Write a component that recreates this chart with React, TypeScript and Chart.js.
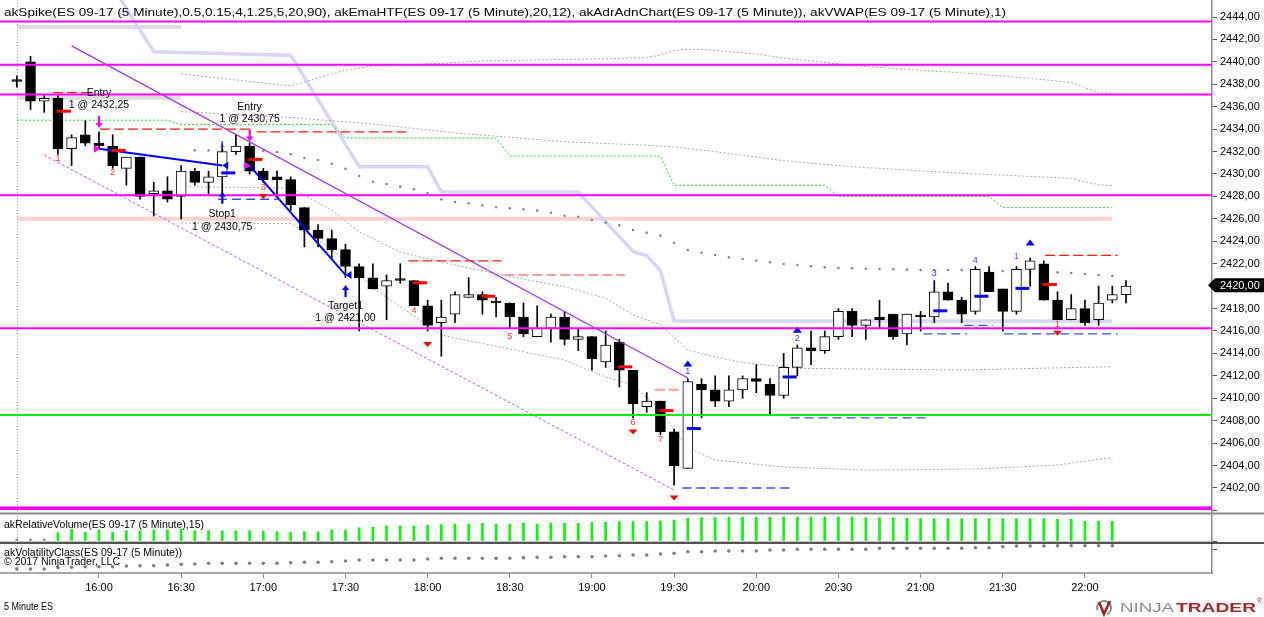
import React, { useEffect, useRef } from 'react';
import { Chart, registerables } from 'chart.js';

Chart.register(...registerables);

const FONT = "'Liberation Sans', Arial, sans-serif";

// ---- candles (5 minute bars, 15:30 .. 22:15) ----
const OPEN = [2438.25,2440.0,2436.5,2436.75,2432.25,2433.5,2432.75,2432.5,2430.5,2431.5,
2428.25,2428.5,2428.0,2430.25,2429.25,2429.75,2432.0,2432.5,2430.25,2429.75,
2429.5,2427.0,2425.0,2424.25,2423.25,2421.75,2420.75,2420.0,2420.5,2420.5,
2418.25,2416.75,2417.5,2419.0,2419.25,2418.5,2418.5,2417.25,2415.5,2416.25,
2417.25,2415.25,2415.5,2413.25,2415.0,2412.5,2409.25,2409.75,2407.0,2403.75,
2411.25,2410.75,2409.75,2410.75,2411.75,2411.25,2410.25,2412.75,2414.5,2414.25,
2415.5,2417.75,2416.5,2417.25,2417.5,2415.75,2417.25,2417.25,2419.5,2418.75,
2417.75,2421.25,2419.75,2417.75,2421.5,2422.0,2418.75,2417.0,2418.0,2417.0,
2418.75,2419.25];
const HIGH = [2438.75,2440.5,2437.0,2437.0,2433.5,2434.75,2433.75,2433.5,2431.5,2431.5,
2429.25,2429.75,2430.75,2430.5,2430.25,2432.75,2433.5,2432.75,2430.5,2430.25,
2429.75,2427.0,2425.5,2425.0,2423.75,2422.0,2422.0,2421.0,2422.0,2420.5,
2418.75,2418.75,2419.5,2420.75,2419.5,2419.0,2418.5,2418.5,2418.25,2417.5,
2417.75,2416.25,2415.5,2416.0,2415.25,2412.5,2410.5,2409.75,2407.25,2411.75,
2411.75,2412.0,2412.0,2412.0,2413.0,2411.75,2414.0,2414.75,2416.0,2416.0,
2418.0,2418.0,2417.0,2418.75,2417.5,2417.5,2417.75,2420.5,2420.25,2419.0,
2421.75,2421.75,2419.75,2421.75,2422.5,2422.25,2419.5,2419.25,2418.75,2420.0,
2420.0,2420.5];
const LOW = [2437.75,2435.75,2435.5,2431.75,2430.75,2432.5,2432.25,2430.5,2429.0,2427.75,
2426.25,2427.5,2426.0,2429.0,2428.25,2428.25,2431.75,2430.0,2429.25,2428.25,
2426.75,2423.5,2423.5,2422.5,2420.75,2416.0,2419.75,2417.0,2420.25,2418.25,
2416.0,2413.75,2416.75,2419.0,2417.5,2417.25,2416.25,2415.5,2415.5,2415.0,
2414.75,2414.25,2412.5,2412.75,2411.0,2408.25,2408.75,2406.75,2402.25,2403.75,
2408.25,2409.25,2409.25,2410.0,2410.5,2408.5,2410.0,2412.0,2413.0,2414.0,
2415.25,2415.5,2415.25,2416.25,2415.25,2414.75,2416.0,2416.75,2418.75,2416.75,
2417.5,2419.5,2416.0,2417.5,2420.0,2418.75,2417.0,2417.0,2416.5,2416.5,
2418.5,2418.5];
const CLOSE = [2438.25,2436.5,2436.75,2432.25,2433.25,2432.75,2432.5,2430.75,2431.5,2428.0,
2428.5,2427.75,2430.25,2429.25,2429.75,2432.0,2432.5,2430.25,2429.5,2429.5,
2427.25,2425.0,2424.25,2423.25,2421.75,2420.75,2419.75,2420.5,2420.5,2418.25,
2416.5,2417.25,2419.25,2419.25,2418.75,2418.5,2417.25,2415.75,2416.25,2417.25,
2415.25,2415.5,2413.5,2414.75,2412.5,2409.5,2409.75,2407.0,2404.0,2411.5,
2410.75,2409.75,2410.75,2411.75,2411.5,2410.25,2412.75,2414.5,2414.25,2415.5,
2417.75,2416.5,2417.0,2417.0,2415.5,2417.5,2417.25,2419.5,2418.75,2417.5,
2421.5,2419.5,2417.75,2421.5,2422.25,2418.75,2417.0,2418.0,2416.75,2418.5,
2419.25,2420.0];

// ---- axis ticks ----
const TICK_BARS = [6, 12, 18, 24, 30, 36, 42, 48, 54, 60, 66, 72, 78];
const TICK_LABELS = ['16:00','16:30','17:00','17:30','18:00','18:30','19:00','19:30','20:00','20:30','21:00','21:30','22:00'];
const PRICE_TICKS = [2400,2402,2404,2406,2408,2410,2412,2414,2416,2418,2420,2422,2424,2426,2428,2430,2432,2434,2436,2438,2440,2442,2444];
const SESSION_BAR = 0;

// ---- lower panels ----
const REL_VOLUME = [2,2,2,8.3,11.7,8.7,11,8.7,10.3,10,
11,11,11.7,10.3,10.3,10.3,10.3,10.3,10,9.3,
8.7,9.3,9.3,11,11,13.3,13.7,15,15,15,
15.7,16.3,17,17,17.7,17,17,17.7,17,17.7,
17.7,17.7,18.7,18.7,19.3,19.3,19.3,20,21,22.7,
23.3,23.7,23.7,23.7,23.7,23.7,24,24,24,24,
24,24,23.3,23.3,23.3,22.7,22.3,22.3,22.3,22.3,
22.3,22.3,22.3,22.3,22.3,22.3,21.7,21.7,19.7,19.7,
19.7];
const VOLATILITY = [4,4,4,5.3,5.7,6.3,6.3,6.3,7,7.3,
7.3,8,8.7,9,9.7,9.7,9.7,9.7,9.7,9.7,
10.3,10.7,10.7,11.3,12,13,13,13,13,13,
14,14.7,14.7,14.7,14.7,14.7,14.7,15.3,15.7,15.7,
16.3,16.3,16.3,17,17.3,18,18,19,19.7,21.3,
21.3,22,22,22,22,23,23,23.7,23.7,23.7,
23.7,23.7,23.7,24.7,24.7,24.7,24.7,24.7,24.7,24.7,
25.3,25.3,26.3,27,27,27,27.3,27.3,27.3,27.3,
27.3];

// ---- indicators ----
const VWAP_START = 13;
const VWAP = [2432.11,2432.1,2432.1,2432.1,2432.1,2432.05,2431.96,2431.76,2431.43,2431.25,
2430.91,2430.47,2429.82,2429.31,2429.11,2428.87,2428.64,2428.28,2427.74,2427.5,
2427.39,2427.21,2427.03,2426.94,2426.85,2426.73,2426.55,2426.28,2426.19,2425.9,
2425.66,2425.42,2425.01,2424.77,2424.5,2423.87,2423.22,2422.98,2422.78,2422.57,
2422.42,2422.27,2422.13,2421.97,2421.88,2421.77,2421.68,2421.62,2421.59,2421.55,
2421.53,2421.5,2421.47,2421.44,2421.44,2421.44,2421.44,2421.41,2421.38,2421.35,
2421.32,2421.29,2421.26,2421.23,2421.17,2421.08,2420.99,2420.93];

const EMA_HTF = [[7,2446.7],[8,2444.77],[9,2442.84],[10,2440.9],[20,2440.6],[25,2430.65],[30,2430.65],[31,2428.4],[41,2428.4],[45,2423.1],[46,2422.7],[47,2421.4],[48,2416.9],[80,2416.9]];
const ADR_LINE = [[0,2434.8],[11,2434.8],[12,2434.4],[23,2434.4],[24,2433.2],[35,2433.2],[36,2431.6],[47,2431.6],[48,2429.0],[59,2429.0],[60,2428.0],[71,2428.0],[72,2427.0],[80,2427.0]];
const BAND_UPPER2 = [[12,2438.92],[14,2438.65],[16,2438.38],[18,2438.11],[20,2437.85],[22,2438.56],[24,2439.27],[26,2439.63],[28,2439.72],[30,2439.81],[34,2440.08],[38,2440.17],[42,2440.26],[44,2440.3],[46,2440.39],[47,2440.61],[48,2441.01],[49,2441.12],[50,2441.12],[52,2440.91],[54,2440.7],[56,2440.34],[58,2440.08],[60,2439.81],[62,2439.59],[64,2439.41],[66,2439.23],[68,2439.1],[70,2438.92],[72,2438.74],[74,2438.52],[76,2438.29],[77,2438.14],[78,2437.7],[79,2437.25],[80,2437.2]];
const BAND_UPPER1 = [[12,2435.56],[20,2435.04],[26,2434.46],[32,2433.66],[40,2432.88],[46,2432.56],[48,2432.41],[51,2431.99],[56,2431.19],[61,2430.65],[69,2430.06],[77,2429.62],[78,2429.29],[79,2429.06],[80,2428.96]];
const BAND_LOWER1 = [[12,2428.87],[20,2428.75],[23,2426.79],[25,2424.83],[28,2423.04],[31,2422.15],[36,2420.84],[40,2419.95],[43,2418.94],[45,2417.43],[47,2416.54],[49,2414.31],[51,2413.68],[53,2413.19],[57,2412.67],[69,2412.52],[80,2412.82]];
const BAND_LOWER2 = [[12,2425.63],[20,2425.58],[22,2424.11],[24,2422.33],[26,2419.83],[28,2418.17],[31,2415.64],[36,2414.39],[40,2413.41],[43,2411.9],[45,2411.19],[47,2408.96],[49,2405.57],[51,2404.5],[56,2403.87],[62,2403.6],[70,2403.69],[76,2404.05],[80,2404.72]];
const PINK_BAND = [[0,2426.0],[80,2426.0]];
const GRAY_TOP = [[0,2443.1],[12,2443.1]];
const GRAY_MID = [[0,2436.8],[12,2436.8]];
const CHANNEL_UPPER = [[4,2441.42],[49,2411.81]];
const CHANNEL_LOWER = [[2,2431.69],[48,2401.82]];
const TRADE_1 = [[6,2432.25],[15,2430.75]];
const TRADE_2 = [[17,2430.75],[24,2421.0]];

// ---- levels and annotations ----
const MAGENTA_LEVELS = [2443.6, 2439.75, 2437.1, 2428.1, 2416.25];
const BOTTOM_LEVEL = 2400.2;
const GREEN_LEVEL = 2408.5;
const RED_DASH = [[2.65,5.34,2437.25],[6.07,17.25,2434.0],[17.5,28.5,2433.75],[28.6,35.4,2422.25],[75.1,80.4,2422.75]];
const PINK_DASH = [[35.6,44.4,2421.0],[46.6,48.4,2410.75]];
const BLUE_DASH = [[14.7,19.2,2427.75],[48.6,56.5,2402.0],[56.5,66.5,2408.25],[66.2,69.4,2415.75],[69.2,71.3,2416.5],[72.1,80.4,2415.75]];
const RED_TICKS = [[3,2435.6],[7,2432.1],[17,2431.3],[29,2420.3],[34,2419.1],[44,2412.8],[47,2408.9],[75,2420.15]];
const BLUE_TICKS = [[15,2430.1],[49,2407.3],[56,2411.9],[67,2417.8],[70,2419.1],[73,2419.8]];
const RED_DOWN = [[18,2428.0],[30,2414.8],[45,2407.0],[48,2401.1],[76,2415.8]];
const BLUE_UP = [[49,2413.1],[57,2416.1],[74,2423.9]];
const RED_NUMS: [number, number, string][] = [[3,2431.35,'1'],[7,2430.1,'2'],[18,2428.8,'3'],[29,2417.8,'4'],[36,2415.55,'5'],[45,2407.86,'6'],[47,2406.34,'7'],[76,2416.6,'1']];
const BLUE_NUMS: [number, number, string][] = [[15,2432.65,'1'],[49,2412.37,'1'],[57,2415.29,'2'],[67,2421.14,'3'],[70,2422.27,'4']];
const PURPLE_NUMS: [number, number, string][] = [[73,2422.63,'1']];
const TRADE_TEXT: [number, number, string][] = [[6,2437.2,'Entry'],[6,2436.15,'1 @ 2432,25'],[17,2436.0,'Entry'],[17,2434.88,'1 @ 2430,75'],[15,2426.43,'Stop1'],[15,2425.3,'1 @ 2430,75'],[24,2418.23,'Target1'],[24,2417.13,'1 @ 2421,00']];
const ENTRY_ARROWS = [[6,2434.1],[17,2432.9]];
const EXIT_ARROWS = [[15,2428.42],[24,2420.1]];
const ENTRY_MARKS = [[6,2432.25],[17,2430.75]];
const EXIT_MARKS = [[15,2430.75],[24,2421.0]];
const LAST_PRICE = 2420.0;

const TITLE = 'akSpike(ES 09-17 (5 Minute),0.5,0.15,4,1.25,5,20,90), akEmaHTF(ES 09-17 (5 Minute),20,12), akAdrAdnChart(ES 09-17 (5 Minute)), akVWAP(ES 09-17 (5 Minute),1)';

const pts = (pairs: number[][]) => pairs.map(([x, y]) => ({ x, y }));
const fmt = (v: number) => v.toFixed(2).replace('.', ',');

function lineDs(data: any[], color: string, width: number, order: number, dash: number[] = []) {
  return {
    type: 'line', data, borderColor: color, borderWidth: width, borderDash: dash,
    pointRadius: 0, fill: false, tension: 0, order, yAxisID: 'y',
  };
}

function fitText(ctx: CanvasRenderingContext2D, text: string, x: number, y: number, width: number, font: string, color: string) {
  ctx.save();
  ctx.font = font;
  ctx.fillStyle = color;
  ctx.textAlign = 'left';
  ctx.textBaseline = 'middle';
  const w = ctx.measureText(text).width;
  ctx.translate(x, y);
  ctx.scale(width / w, 1);
  ctx.fillText(text, 0, 0);
  ctx.restore();
}

const noPad = (s: any) => { s.paddingLeft = 0; s.paddingRight = 0; s.paddingTop = 0; s.paddingBottom = 0; };

const overlayPlugin = {
  id: 'ninjaOverlay',
  beforeDraw(chart: any) {
    const { ctx } = chart;
    ctx.save();
    ctx.fillStyle = '#ffffff';
    ctx.fillRect(0, 0, chart.width, chart.height);
    ctx.restore();
  },
  beforeDatasetsDraw(chart: any) {
    const { ctx, chartArea } = chart;
    const x = Math.round(chart.scales.x.getPixelForValue(SESSION_BAR)) + 0.5;
    ctx.save();
    ctx.strokeStyle = '#a0a0a0';
    ctx.lineWidth = 1;
    ctx.setLineDash([1, 2]);
    ctx.beginPath();
    ctx.moveTo(x, chartArea.top);
    ctx.lineTo(x, chartArea.bottom);
    ctx.stroke();
    ctx.restore();
  },
  afterDatasetsDraw(chart: any) {
    const { ctx, chartArea } = chart;
    const xs = chart.scales.x;
    const ys = chart.scales.y;
    const px = (b: number) => xs.getPixelForValue(b);
    const py = (p: number) => ys.getPixelForValue(p);
    ctx.save();
    ctx.beginPath();
    ctx.rect(chartArea.left, ys.top, chartArea.right - chartArea.left, ys.bottom - ys.top);
    ctx.clip();

    const hline = (p: number, color: string, w: number) => {
      ctx.strokeStyle = color; ctx.lineWidth = w; ctx.setLineDash([]);
      ctx.beginPath(); ctx.moveTo(chartArea.left, py(p)); ctx.lineTo(chartArea.right, py(p)); ctx.stroke();
    };
    hline(GREEN_LEVEL, '#10f010', 2);
    MAGENTA_LEVELS.forEach((p) => hline(p, '#ff00ff', 2));
    hline(BOTTOM_LEVEL, '#ff00ff', 3.5);

    const seg = (list: number[][], color: string, w: number, dash: number[]) => {
      ctx.strokeStyle = color; ctx.lineWidth = w; ctx.setLineDash(dash);
      list.forEach(([a, b, p]) => {
        ctx.beginPath(); ctx.moveTo(px(a), py(p)); ctx.lineTo(px(b), py(p)); ctx.stroke();
      });
    };
    seg(RED_DASH, '#ff1a1a', 1.3, [10, 4]);
    seg(PINK_DASH, '#ff9c9c', 2, [10, 4]);
    seg(BLUE_DASH, '#3a4fd6', 1.3, [9, 5]);
    ctx.setLineDash([]);

    const tick = (list: number[][], color: string) => {
      ctx.strokeStyle = color; ctx.lineWidth = 3;
      list.forEach(([b, p]) => {
        const x = px(b); const y = py(p);
        ctx.beginPath(); ctx.moveTo(x - 1, y); ctx.lineTo(x + 13, y); ctx.stroke();
      });
    };
    tick(RED_TICKS, '#ff0000');
    tick(BLUE_TICKS, '#0000ff');

    ctx.fillStyle = '#ff0000';
    RED_DOWN.forEach(([b, p]) => {
      const x = px(b); const y = py(p);
      ctx.beginPath(); ctx.moveTo(x - 4.5, y - 2.5); ctx.lineTo(x + 4.5, y - 2.5); ctx.lineTo(x, y + 2.5); ctx.closePath(); ctx.fill();
    });
    ctx.fillStyle = '#0000ff';
    BLUE_UP.forEach(([b, p]) => {
      const x = px(b); const y = py(p);
      ctx.beginPath(); ctx.moveTo(x - 4.5, y + 3); ctx.lineTo(x + 4.5, y + 3); ctx.lineTo(x, y - 3); ctx.closePath(); ctx.fill();
    });

    // trade arrows
    ENTRY_ARROWS.forEach(([b, p]) => {
      const x = px(b); const y = py(p);
      ctx.fillStyle = '#ff00ff';
      ctx.fillRect(x - 1, y - 12, 2.2, 8);
      ctx.beginPath(); ctx.moveTo(x - 3.5, y - 5); ctx.lineTo(x + 3.7, y - 5); ctx.lineTo(x + 0.1, y); ctx.closePath(); ctx.fill();
    });
    EXIT_ARROWS.forEach(([b, p]) => {
      const x = px(b); const y = py(p);
      ctx.fillStyle = '#0000ff';
      ctx.fillRect(x - 1, y + 4, 2.2, 8);
      ctx.beginPath(); ctx.moveTo(x - 3.5, y + 5); ctx.lineTo(x + 3.7, y + 5); ctx.lineTo(x + 0.1, y); ctx.closePath(); ctx.fill();
    });
    ENTRY_MARKS.forEach(([b, p]) => {
      const x = px(b); const y = py(p);
      ctx.fillStyle = '#ff00ff';
      ctx.beginPath(); ctx.moveTo(x - 5, y - 4); ctx.lineTo(x + 1, y); ctx.lineTo(x - 5, y + 4); ctx.closePath(); ctx.fill();
    });
    EXIT_MARKS.forEach(([b, p]) => {
      const x = px(b); const y = py(p);
      ctx.fillStyle = '#0000ff';
      ctx.beginPath(); ctx.moveTo(x + 6, y - 4); ctx.lineTo(x, y); ctx.lineTo(x + 6, y + 4); ctx.closePath(); ctx.fill();
    });

    ctx.textAlign = 'center';
    ctx.textBaseline = 'middle';
    const nums = (list: [number, number, string][], color: string, size: number) => {
      ctx.fillStyle = color; ctx.font = `${size}px ${FONT}`;
      list.forEach(([b, p, t]) => ctx.fillText(t, px(b), py(p)));
    };
    nums(RED_NUMS, '#ff3030', 9);
    nums(BLUE_NUMS, '#2a3cff', 9);
    nums(PURPLE_NUMS, '#9040ff', 9);

    ctx.fillStyle = '#000000';
    ctx.font = `10.5px ${FONT}`;
    TRADE_TEXT.forEach(([b, p, t]) => ctx.fillText(t, px(b), py(p)));
    ctx.restore();
  },
  afterDraw(chart: any) {
    const { ctx, chartArea } = chart;
    const ys = chart.scales.y;
    ctx.save();
    // panel separators
    ctx.strokeStyle = '#8c8c8c'; ctx.lineWidth = 2;
    ctx.beginPath(); ctx.moveTo(0, 513.5); ctx.lineTo(chart.width, 513.5); ctx.stroke();
    ctx.strokeStyle = '#c4c4c4'; ctx.lineWidth = 1;
    ctx.beginPath(); ctx.moveTo(0, 541.5); ctx.lineTo(chartArea.right, 541.5); ctx.stroke();
    ctx.strokeStyle = '#1a1a1a'; ctx.lineWidth = 1.5;
    ctx.beginPath(); ctx.moveTo(0, 543); ctx.lineTo(chart.width, 543); ctx.stroke();
    ctx.restore();

    fitText(ctx, TITLE, 4, 13, 1002, `11.5px ${FONT}`, '#000');
    fitText(ctx, 'akRelativeVolume(ES 09-17 (5 Minute),15)', 4, 525, 200, `11px ${FONT}`, '#000');
    fitText(ctx, 'akVolatilityClass(ES 09-17 (5 Minute))', 4, 553, 178, `11px ${FONT}`, '#000');
    fitText(ctx, '\u00a9 2017 NinjaTrader, LLC', 4, 561.5, 116, `11px ${FONT}`, '#000');
    fitText(ctx, '5 Minute ES', 4, 607, 49, `10px ${FONT}`, '#000');

    // last price tag
    const y = ys.getPixelForValue(LAST_PRICE) - 1;
    ctx.save();
    ctx.fillStyle = '#000';
    ctx.beginPath();
    ctx.moveTo(1208, y); ctx.lineTo(1215, y - 7); ctx.lineTo(1264, y - 7); ctx.lineTo(1264, y + 7); ctx.lineTo(1215, y + 7);
    ctx.closePath(); ctx.fill();
    ctx.fillStyle = '#fff'; ctx.font = `11px ${FONT}`; ctx.textAlign = 'left'; ctx.textBaseline = 'middle';
    ctx.fillText(fmt(LAST_PRICE), 1220, y + 0.5);
    ctx.restore();

    // NinjaTrader logo
    ctx.save();
    ctx.strokeStyle = '#8a8a8a'; ctx.lineWidth = 2;
    ctx.beginPath(); ctx.arc(1104, 608, 7, 0.9 * Math.PI, 2.35 * Math.PI); ctx.stroke();
    ctx.strokeStyle = '#a3202a'; ctx.lineWidth = 2.6;
    ctx.beginPath(); ctx.moveTo(1099, 602); ctx.lineTo(1104, 614); ctx.lineTo(1110, 601); ctx.stroke();
    ctx.restore();
    fitText(ctx, 'NINJA', 1120, 608, 54, `13px ${FONT}`, '#8c8c8c');
    fitText(ctx, 'TRADER', 1176, 608, 80, `bold 13px ${FONT}`, '#a5262b');
    fitText(ctx, '\u00ae', 1257, 601, 5, `7px ${FONT}`, '#a5262b');
  },
};

export default function App() {
  const ref = useRef<HTMLCanvasElement>(null);
  useEffect(() => {
    document.body.style.margin = '0';
    const canvas = ref.current;
    if (!canvas) return;

    const wick = HIGH.map((h, i) => ({ x: i, y: [LOW[i], h] }));
    const body = OPEN.map((o, i) => ({ x: i, y: [o, CLOSE[i]] }));
    const bodyColors = OPEN.map((o, i) => (CLOSE[i] > o ? '#ffffff' : '#000000'));

    const datasets: any[] = [
      lineDs(pts(PINK_BAND), '#ffd2d2', 4, 20),
      lineDs(pts(GRAY_TOP), '#dcdcdc', 4, 20),
      lineDs(pts(GRAY_MID), '#dcdcdc', 4, 20),
      lineDs(pts(EMA_HTF), '#d6d6f6', 3.5, 19),
      lineDs(pts(BAND_UPPER2), '#a8a8a8', 1, 18, [2, 2]),
      lineDs(pts(BAND_UPPER1), '#a8a8a8', 1, 18, [2, 2]),
      lineDs(pts(BAND_LOWER1), '#a8a8a8', 1, 18, [2, 2]),
      lineDs(pts(BAND_LOWER2), '#a8a8a8', 1, 18, [2, 2]),
      lineDs(pts(ADR_LINE), '#20e020', 1, 18, [2, 2]),
      {
        type: 'line', data: VWAP.map((v, k) => ({ x: VWAP_START + k, y: v })), showLine: false,
        pointRadius: 1.3, pointBackgroundColor: '#8a8a8a', pointBorderWidth: 0, order: 17, yAxisID: 'y',
      },
      {
        type: 'bar', data: wick, backgroundColor: '#000000', barThickness: 1, grouped: false,
        order: 6, yAxisID: 'y',
      },
      {
        type: 'bar', data: body, backgroundColor: bodyColors, borderColor: '#000000', borderWidth: 1,
        borderSkipped: false, barThickness: 10, minBarLength: 2, grouped: false, order: 5, yAxisID: 'y',
      },
      lineDs(pts(CHANNEL_UPPER), '#a335e6', 1.3, 3),
      lineDs(pts(CHANNEL_LOWER), '#b565e8', 1, 3, [3, 2]),
      lineDs(pts(TRADE_1), '#0000ff', 2, 2),
      lineDs(pts(TRADE_2), '#0000ff', 2, 2),
      {
        type: 'bar', data: REL_VOLUME.map((v, i) => ({ x: i, y: v })),
        backgroundColor: REL_VOLUME.map((_, i) => (i < 3 ? '#8c8c8c' : '#00ff00')),
        barThickness: 2, grouped: false, order: 5, yAxisID: 'yv',
      },
      {
        type: 'line', data: VOLATILITY.map((v, i) => ({ x: i, y: v })), showLine: false,
        pointRadius: 1.8, pointBackgroundColor: '#808080', pointBorderWidth: 0, order: 5, yAxisID: 'yc',
      },
    ];

    const chart = new Chart(canvas, {
      type: 'bar',
      data: { datasets },
      options: {
        animation: false,
        responsive: false,
        events: [],
        layout: { padding: 0, autoPadding: false },
        plugins: { legend: { display: false }, tooltip: { enabled: false }, title: { display: false } },
        scales: {
          x: {
            type: 'linear', min: -1.229, max: 87.28, offset: false,
            grid: { offset: false, drawOnChartArea: false, drawTicks: true, tickLength: 5, color: '#8a8a8a' },
            border: { color: '#a8a8a8', width: 2 },
            ticks: {
              color: '#000', font: { family: FONT, size: 11 }, padding: 3, maxRotation: 0, minRotation: 0, autoSkip: false,
              callback: (v: any) => { const k = TICK_BARS.indexOf(Number(v)); return k >= 0 ? TICK_LABELS[k] : ''; },
            },
            afterBuildTicks: (s: any) => { s.ticks = TICK_BARS.map((v) => ({ value: v })); },
            afterFit: (s: any) => { s.height = 44; noPad(s); },
          },
          y: {
            type: 'linear', position: 'right', stack: 'panes', stackWeight: 512,
            min: 2399.859, max: 2445.516,
            grid: { drawOnChartArea: false, drawTicks: true, tickLength: 5, color: '#555' },
            border: { color: '#8a8a8a', width: 1.5 },
            ticks: {
              color: '#000', font: { family: FONT, size: 11 }, padding: 3, autoSkip: false,
              callback: (v: any) => (Number(v) === 2400 ? '' : fmt(Number(v))),
            },
            afterBuildTicks: (s: any) => { s.ticks = PRICE_TICKS.map((v) => ({ value: v })); },
            afterFit: (s: any) => { s.width = 52; noPad(s); },
          },
          yv: {
            type: 'linear', position: 'right', stack: 'panes', stackWeight: 30, min: -1, max: 29,
            grid: { drawOnChartArea: false, drawTicks: true, tickLength: 5, color: '#555' },
            border: { color: '#8a8a8a', width: 1.5 },
            ticks: { callback: () => '', padding: 0 },
            afterBuildTicks: (s: any) => { s.ticks = [{ value: 0 }]; },
            afterFit: (s: any) => { s.width = 52; noPad(s); },
          },
          yc: {
            type: 'linear', position: 'right', stack: 'panes', stackWeight: 31, min: 0, max: 31,
            grid: { drawOnChartArea: false, drawTicks: true, tickLength: 5, color: '#555' },
            border: { color: '#8a8a8a', width: 1.5 },
            ticks: { callback: () => '', padding: 0 },
            afterBuildTicks: (s: any) => { s.ticks = [{ value: 24 }]; },
            afterFit: (s: any) => { s.width = 52; noPad(s); },
          },
        },
      } as any,
      plugins: [overlayPlugin],
    } as any);
    return () => chart.destroy();
  }, []);
  return <canvas ref={ref} width={1264} height={617} style={{ display: 'block', width: 1264, height: 617 }} />;
}
